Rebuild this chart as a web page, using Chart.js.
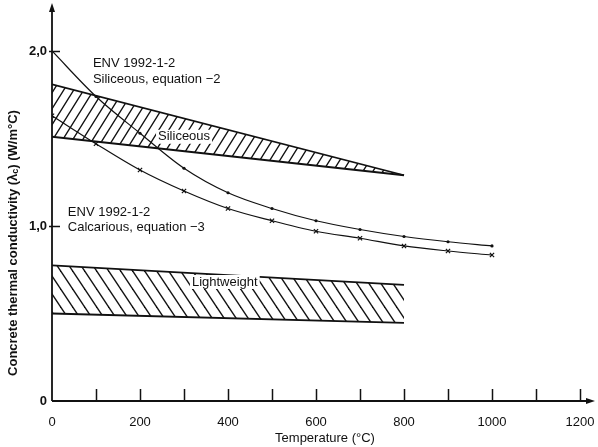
<!DOCTYPE html>
<html>
<head>
<meta charset="utf-8">
<script src="https://cdn.jsdelivr.net/npm/chart.js@4/dist/chart.umd.min.js"></script>
<style>
    html, body { margin: 0; padding: 0; background: #fff; }
    #chart { display: block; }
</style>
</head>
<body>
<canvas id="chart" width="598" height="447"></canvas>
<script>
// Curve data (temperature in degC, conductivity in W/m degC)
const temperatures = [0, 100, 200, 300, 400, 500, 600, 700, 800, 900, 1000];
const siliceousEq2 = [2.0, 1.74, 1.53, 1.33, 1.19, 1.10, 1.03, 0.98, 0.94, 0.91, 0.886];
const calcareousEq3 = [1.63, 1.47, 1.32, 1.20, 1.10, 1.03, 0.97, 0.93, 0.886, 0.857, 0.834];

// Hatched bands
const bandTemperatures = [0, 800];
const siliceousUpper = [1.81, 1.29];
const siliceousLower = [1.51, 1.29];
const lightweightUpper = [0.775, 0.663];
const lightweightLower = [0.50, 0.446];

// Axis ticks
const xTickValues = [0, 100, 200, 300, 400, 500, 600, 700, 800, 900, 1000, 1100, 1200];
const xTickLabels = ['0', '', '200', '', '400', '', '600', '', '800', '', '1000', '', '1200'];
const yTickValues = [0, 1, 2];
const yTickLabels = ['0', '1,0', '2,0'];

const FONT = '"Liberation Sans", Arial, Helvetica, sans-serif';
const INK = '#111';

// Diagonal hatch pattern; dir = 1 for '/', -1 for '\'
function makeHatch(w, h, dir, lineWidth) {
    const c = document.createElement('canvas');
    c.width = w;
    c.height = h;
    const g = c.getContext('2d');
    g.strokeStyle = INK;
    g.lineWidth = lineWidth;
    g.lineCap = 'square';
    for (const off of [-w, 0, w]) {
        g.beginPath();
        if (dir > 0) {
            g.moveTo(off, h);
            g.lineTo(off + w, 0);
        } else {
            g.moveTo(off, 0);
            g.lineTo(off + w, h);
        }
        g.stroke();
    }
    return document.getElementById('chart').getContext('2d').createPattern(c, 'repeat');
}

function toPoints(xs, ys) {
    return xs.map((x, i) => ({ x: x, y: ys[i] }));
}

// Text placed in data coordinates
const annotations = [
    { text: 'ENV 1992-1-2', x: 93, y: 1.93 },
    { text: 'Siliceous, equation \u22122', x: 93, y: 1.84 },
    { text: 'Siliceous', x: 241, y: 1.51, knockout: true },
    { text: 'ENV 1992-1-2', x: 36, y: 1.08 },
    { text: 'Calcarious, equation \u22123', x: 36, y: 0.99 },
    { text: 'Lightweight', x: 318, y: 0.68, knockout: true }
];

const axesPlugin = {
    id: 'handAxes',
    afterDatasetsDraw(chart) {
        const ctx = chart.ctx;
        const xs = chart.scales.x;
        const ys = chart.scales.y;
        const x0 = xs.getPixelForValue(0);
        const y0 = ys.getPixelForValue(0);

        ctx.save();
        ctx.strokeStyle = INK;
        ctx.fillStyle = INK;

        // axis lines
        ctx.lineWidth = 1.8;
        ctx.beginPath();
        ctx.moveTo(x0, y0);
        ctx.lineTo(x0, 8);
        ctx.moveTo(x0, y0);
        ctx.lineTo(590, y0);
        ctx.stroke();

        // arrow heads
        ctx.beginPath();
        ctx.moveTo(x0, 3);
        ctx.lineTo(x0 - 3, 12);
        ctx.lineTo(x0 + 3, 12);
        ctx.closePath();
        ctx.fill();
        ctx.beginPath();
        ctx.moveTo(595, y0);
        ctx.lineTo(586, y0 - 3);
        ctx.lineTo(586, y0 + 3);
        ctx.closePath();
        ctx.fill();

        // inward tick marks
        ctx.lineWidth = 1.5;
        ctx.beginPath();
        xTickValues.forEach(v => {
            if (v === 0) return;
            const px = Math.round(xs.getPixelForValue(v)) + 0.5;
            ctx.moveTo(px, y0);
            ctx.lineTo(px, y0 - 12);
        });
        yTickValues.forEach(v => {
            if (v === 0) return;
            const py = Math.round(ys.getPixelForValue(v)) + 0.5;
            ctx.moveTo(x0 - 3, py);
            ctx.lineTo(x0 + 8, py);
        });
        ctx.stroke();

        // annotations
        ctx.font = '13px ' + FONT;
        ctx.textBaseline = 'middle';
        ctx.textAlign = 'left';
        annotations.forEach(a => {
            const px = xs.getPixelForValue(a.x);
            const py = ys.getPixelForValue(a.y);
            if (a.knockout) {
                const w = ctx.measureText(a.text).width;
                ctx.fillStyle = '#fff';
                ctx.fillRect(px - 2, py - 7, w + 4, 14);
            }
            ctx.fillStyle = INK;
            ctx.fillText(a.text, px, py);
        });

        // y axis title with subscript
        const parts = [
            { t: 'Concrete thermal conductivity (\u03bb', sub: false },
            { t: 'c', sub: true },
            { t: ') (W/m\u00b0C)', sub: false }
        ];
        const mainFont = 'bold 13px ' + FONT;
        const subFont = 'bold 9px ' + FONT;
        let total = 0;
        parts.forEach(p => {
            ctx.font = p.sub ? subFont : mainFont;
            p.w = ctx.measureText(p.t).width;
            total += p.w;
        });
        ctx.translate(13, 243);
        ctx.rotate(-Math.PI / 2);
        ctx.textAlign = 'left';
        let cx = -total / 2;
        parts.forEach(p => {
            ctx.font = p.sub ? subFont : mainFont;
            ctx.fillText(p.t, cx, p.sub ? 3 : 0);
            cx += p.w;
        });
        ctx.restore();

        // x axis title
        ctx.save();
        ctx.font = '13px ' + FONT;
        ctx.fillStyle = INK;
        ctx.textAlign = 'center';
        ctx.textBaseline = 'middle';
        ctx.fillText('Temperature (\u00b0C)', 325, 438);
        ctx.restore();
    }
};

const ctx = document.getElementById('chart').getContext('2d');
const slashHatch = makeHatch(10, 16, 1, 1.4);
const backHatch = makeHatch(12, 18, -1, 1.4);

const bandLine = {
    borderColor: INK,
    borderWidth: 1.8,
    pointRadius: 0,
    tension: 0
};

new Chart(ctx, {
    type: 'line',
    data: {
        datasets: [
            Object.assign({ data: toPoints(bandTemperatures, siliceousUpper), fill: '+1', backgroundColor: slashHatch }, bandLine),
            Object.assign({ data: toPoints(bandTemperatures, siliceousLower), fill: false }, bandLine),
            Object.assign({ data: toPoints(bandTemperatures, lightweightUpper), fill: '+1', backgroundColor: backHatch }, bandLine),
            Object.assign({ data: toPoints(bandTemperatures, lightweightLower), fill: false }, bandLine),
            {
                data: toPoints(temperatures, siliceousEq2),
                borderColor: INK,
                borderWidth: 1.2,
                fill: false,
                cubicInterpolationMode: 'monotone',
                pointStyle: 'circle',
                pointRadius: temperatures.map(t => t === 0 ? 0 : 1.6),
                pointBackgroundColor: INK,
                pointBorderWidth: 0
            },
            {
                data: toPoints(temperatures, calcareousEq3),
                borderColor: INK,
                borderWidth: 1.2,
                fill: false,
                cubicInterpolationMode: 'monotone',
                pointStyle: 'crossRot',
                pointRadius: 3,
                pointBorderColor: INK,
                pointBorderWidth: 1.2
            }
        ]
    },
    options: {
        responsive: false,
        animation: false,
        layout: { padding: { top: 16, right: 18, left: 0, bottom: 0 } },
        plugins: {
            legend: { display: false },
            tooltip: { enabled: false }
        },
        scales: {
            x: {
                type: 'linear',
                min: 0,
                max: 1200,
                afterBuildTicks: (scale) => { scale.ticks = xTickValues.map(v => ({ value: v })); },
                afterFit: (scale) => {
                    scale.height = 46;
                    scale.paddingLeft = 0;
                    scale.paddingRight = 0;
                },
                ticks: {
                    autoSkip: false,
                    maxRotation: 0,
                    padding: 14,
                    color: INK,
                    font: { family: FONT, size: 13 },
                    callback: (value, index) => xTickLabels[index]
                },
                grid: { display: false, drawTicks: false },
                border: { display: false }
            },
            y: {
                type: 'linear',
                min: 0,
                max: 2.2,
                afterBuildTicks: (scale) => { scale.ticks = yTickValues.map(v => ({ value: v })); },
                afterFit: (scale) => { scale.width = 52; },
                ticks: {
                    padding: 5,
                    color: INK,
                    font: { family: FONT, size: 13, weight: 'bold' },
                    callback: (value, index) => yTickLabels[index]
                },
                grid: { display: false, drawTicks: false },
                border: { display: false }
            }
        }
    },
    plugins: [axesPlugin]
});
</script>
</body>
</html>
